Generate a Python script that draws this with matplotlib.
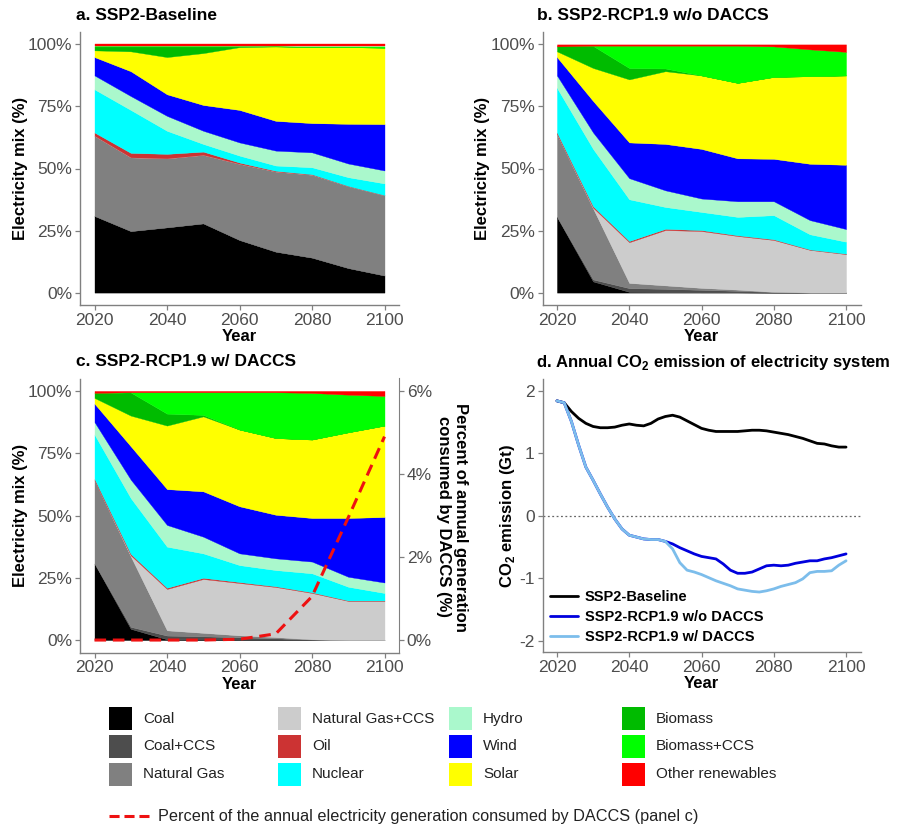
import matplotlib
matplotlib.use("Agg")
import matplotlib.pyplot as plt
from matplotlib.patches import Rectangle
from matplotlib.lines import Line2D
from matplotlib.ticker import FuncFormatter

plt.rcParams['font.family'] = ['Liberation Sans', 'DejaVu Sans']
plt.rcParams['mathtext.fontset'] = 'custom'
plt.rcParams['mathtext.rm'] = 'Liberation Sans:bold'
plt.rcParams['mathtext.bf'] = 'Liberation Sans:bold'

# ---------------- data ----------------
years = [2020, 2030, 2040, 2050, 2060, 2070, 2080, 2090, 2100]
categories = ["Coal", "Coal+CCS", "Natural Gas", "Natural Gas+CCS", "Oil", "Nuclear",
              "Hydro", "Wind", "Solar", "Biomass", "Biomass+CCS", "Other renewables"]
colors = ["#000000", "#4D4D4D", "#808080", "#CCCCCC", "#CC3333", "#00FFFF",
          "#AAF8CC", "#0000FF", "#FFFF00", "#00BB00", "#00FF00", "#FF0000"]

# a. SSP2-Baseline (shares, %)
a_coal = [30.9, 24.8, 26.3, 27.9, 21.2, 16.5, 14.1, 9.9, 6.9]
a_coal_ccs = [0, 0, 0, 0, 0, 0, 0, 0, 0]
a_gas = [32.3, 29.7, 27.8, 27.6, 30.7, 32.3, 33.4, 33.0, 32.3]
a_gas_ccs = [0, 0, 0, 0, 0, 0, 0, 0, 0]
a_oil = [1.3, 1.8, 1.8, 1.3, 0.5, 0.3, 0.2, 0.1, 0.1]
a_nuclear = [17.4, 17.3, 9.3, 3.1, 2.8, 2.1, 2.8, 3.5, 4.7]
a_hydro = [5.6, 5.6, 6.0, 5.3, 5.3, 6.0, 6.0, 5.5, 5.2]
a_wind = [7.4, 10.0, 8.7, 10.4, 13.1, 12.0, 11.8, 16.0, 18.7]
a_solar = [2.7, 8.0, 15.0, 20.9, 25.3, 30.0, 30.6, 30.9, 30.8]
a_biomass = [1.6, 2.0, 4.3, 2.7, 0.3, 0.0, 0.1, 0.0, 0.0]
a_biomass_ccs = [0, 0, 0, 0, 0, 0, 0.2, 0.3, 0.5]
a_other = [0.8, 0.8, 0.8, 0.8, 0.8, 0.8, 0.8, 0.8, 0.8]

# b. SSP2-RCP1.9 w/o DACCS
b_coal = [30.5, 4.5, 0.3, 0.2, 0.1, 0.1, 0, 0, 0]
b_coal_ccs = [0, 0.8, 1.5, 1.3, 1.0, 0.6, 0.2, 0, 0]
b_gas = [33.4, 28.6, 2.1, 1.4, 0.8, 0.5, 0.1, 0, 0]
b_gas_ccs = [0, 0.3, 16.4, 22.3, 22.9, 21.6, 20.9, 17.2, 15.5]
b_oil = [0.6, 0.6, 0.5, 0.5, 0.4, 0.3, 0.3, 0.2, 0.2]
b_nuclear = [18.0, 23.1, 16.8, 8.8, 7.3, 7.4, 9.7, 6.1, 4.8]
b_hydro = [5.0, 6.6, 8.5, 6.7, 5.4, 6.3, 5.6, 5.7, 5.1]
b_wind = [7.4, 12.7, 14.4, 18.7, 20.0, 17.3, 17.1, 22.7, 25.9]
b_solar = [2.3, 13.3, 25.4, 29.3, 29.6, 30.4, 33.0, 35.3, 36.0]
b_biomass = [2.0, 8.9, 4.6, 1.1, 0, 0, 0, 0, 0]
b_biomass_ccs = [0, 0.1, 9.0, 9.2, 12.0, 15.0, 12.3, 10.8, 9.5]
b_other = [0.8, 0.5, 0.5, 0.5, 0.5, 0.5, 0.8, 2.0, 3.0]

# c. SSP2-RCP1.9 w/ DACCS
c_coal = [30.7, 4.5, 0.3, 0.2, 0.1, 0.1, 0, 0, 0]
c_coal_ccs = [0, 0.8, 1.5, 1.3, 1.0, 0.6, 0.2, 0, 0]
c_gas = [33.4, 28.3, 2.1, 1.4, 0.8, 0.5, 0.1, 0, 0]
c_gas_ccs = [0, 0.4, 16.6, 21.6, 21.0, 20.1, 18.6, 15.7, 15.7]
c_oil = [0.6, 0.6, 0.5, 0.5, 0.4, 0.3, 0.3, 0.2, 0.2]
c_nuclear = [17.8, 22.4, 16.5, 9.8, 6.8, 6.5, 7.6, 5.5, 3.0]
c_hydro = [5.0, 7.4, 8.7, 6.7, 4.7, 4.7, 4.7, 4.0, 4.2]
c_wind = [7.4, 13.4, 14.4, 18.2, 18.9, 17.5, 17.5, 23.6, 26.3]
c_solar = [2.3, 12.3, 25.5, 30.1, 30.8, 30.8, 31.5, 34.4, 36.7]
c_biomass = [2.0, 9.3, 4.8, 0.6, 0, 0, 0, 0, 0]
c_biomass_ccs = [0, 0.1, 8.6, 9.1, 15.0, 18.4, 18.7, 15.1, 11.9]
c_other = [0.8, 0.5, 0.5, 0.5, 0.5, 0.5, 0.8, 1.5, 2.0]

# DACCS share of annual generation (panel c, right axis, %)
daccs_pct = [0, 0, 0, 0, 0.02, 0.15, 1.05, 2.95, 4.9]

# d. Annual CO2 emission (Gt)
em_years = list(range(2020, 2101, 2))
em_baseline = [1.84, 1.81, 1.67, 1.56, 1.48, 1.43, 1.41, 1.41, 1.42, 1.45, 1.47,
               1.45, 1.44, 1.48, 1.55, 1.59, 1.61, 1.58, 1.52, 1.46, 1.40,
               1.37, 1.35, 1.35, 1.35, 1.35, 1.36, 1.37, 1.37, 1.36, 1.34,
               1.32, 1.30, 1.27, 1.24, 1.20, 1.16, 1.15, 1.12, 1.10, 1.10]
em_wo_daccs = [1.84, 1.81, 1.51, 1.13, 0.78, 0.57, 0.35, 0.14, -0.05, -0.21, -0.31,
               -0.34, -0.37, -0.38, -0.38, -0.41, -0.45, -0.51, -0.56, -0.61, -0.65,
               -0.67, -0.69, -0.77, -0.87, -0.92, -0.92, -0.90, -0.85, -0.80, -0.79,
               -0.80, -0.79, -0.76, -0.74, -0.72, -0.72, -0.69, -0.67, -0.64, -0.61]
em_w_daccs = [1.84, 1.81, 1.51, 1.13, 0.78, 0.57, 0.35, 0.14, -0.05, -0.21, -0.31,
              -0.34, -0.37, -0.38, -0.38, -0.41, -0.53, -0.75, -0.87, -0.90, -0.94,
              -0.99, -1.04, -1.08, -1.12, -1.17, -1.19, -1.21, -1.22, -1.20, -1.17,
              -1.13, -1.10, -1.07, -1.01, -0.91, -0.89, -0.89, -0.88, -0.79, -0.72]
line_labels = ["SSP2-Baseline", "SSP2-RCP1.9 w/o DACCS", "SSP2-RCP1.9 w/ DACCS"]
line_colors = ["#000000", "#0000DD", "#7CBDEB"]

a_shares = [a_coal, a_coal_ccs, a_gas, a_gas_ccs, a_oil, a_nuclear, a_hydro,
            a_wind, a_solar, a_biomass, a_biomass_ccs, a_other]
b_shares = [b_coal, b_coal_ccs, b_gas, b_gas_ccs, b_oil, b_nuclear, b_hydro,
            b_wind, b_solar, b_biomass, b_biomass_ccs, b_other]
c_shares = [c_coal, c_coal_ccs, c_gas, c_gas_ccs, c_oil, c_nuclear, c_hydro,
            c_wind, c_solar, c_biomass, c_biomass_ccs, c_other]

# ---------------- figure ----------------
W, H = 902, 826
fig = plt.figure(figsize=(W / 100, H / 100), dpi=100)

SPINE = "#808080"
TICKTXT = "#4D4D4D"


def fx(px):
    return px / W


def fy(py):
    return 1 - py / H


def make_ax(left, right, top, bottom):
    return fig.add_axes([fx(left), fy(bottom), fx(right - left), (bottom - top) / H])


def style(ax):
    for s in ["top", "right"]:
        ax.spines[s].set_visible(False)
    for s in ["left", "bottom"]:
        ax.spines[s].set_color(SPINE)
        ax.spines[s].set_linewidth(1.0)
    ax.tick_params(colors=SPINE, labelcolor=TICKTXT, labelsize=12.5, length=3.5,
                   width=0.9, pad=2)
    ax.set_xlim(2016, 2104)
    ax.set_xticks([2020, 2040, 2060, 2080, 2100])
    ax.set_xlabel("Year", fontsize=12, fontweight="bold", labelpad=1)


pct_fmt = FuncFormatter(lambda v, p: f"{v:.0f}%")
num_fmt = FuncFormatter(lambda v, p: f"{v:g}")


def mix_panel(ax, shares):
    polys = ax.stackplot(years, *shares, colors=colors, linewidth=0.25)
    for p, c in zip(polys, colors):
        p.set_edgecolor(c)
    style(ax)
    ax.set_ylim(-5, 105)
    ax.set_yticks([0, 25, 50, 75, 100])
    ax.yaxis.set_major_formatter(pct_fmt)
    ax.set_ylabel("Electricity mix (%)", fontsize=12, fontweight="bold", labelpad=0)


ax_a = make_ax(80, 399, 32, 305)
mix_panel(ax_a, a_shares)
ax_b = make_ax(542.5, 860.5, 32, 305)
mix_panel(ax_b, b_shares)
ax_c = make_ax(80, 399, 378.5, 652.5)
mix_panel(ax_c, c_shares)

# right axis of panel c
ax_c2 = ax_c.twinx()
ax_c2.set_ylim(-0.3, 6.3)
ax_c2.plot(years, daccs_pct, color="#EE1111", lw=2.2, ls=(0, (3.8, 2.2)),
           solid_capstyle="butt", dash_capstyle="butt")
for s in ["top", "left", "bottom"]:
    ax_c2.spines[s].set_visible(False)
ax_c2.spines["right"].set_color(SPINE)
ax_c2.set_yticks([0, 2, 4, 6])
ax_c2.yaxis.set_major_formatter(pct_fmt)
ax_c2.tick_params(colors=SPINE, labelcolor=TICKTXT, labelsize=12.5, length=3.5,
                  width=0.9, pad=2)
ax_c2.set_xlim(2016, 2104)
fig.text(fx(452), fy(517), "Percent of annual generation\nconsumed by DACCS (%)",
         rotation=270, ha="center", va="center", multialignment="center",
         fontsize=12, fontweight="bold")

# panel d
ax_d = make_ax(542.5, 860.5, 379, 652)
style(ax_d)
ax_d.axhline(0, color="#666666", lw=0.9, ls=(0, (1.5, 2.0)), zorder=1)
handles = []
for vals, lab, col in [(em_baseline, line_labels[0], line_colors[0]),
                       (em_wo_daccs, line_labels[1], line_colors[1]),
                       (em_w_daccs, line_labels[2], line_colors[2])]:
    h, = ax_d.plot(em_years, vals, color=col, lw=2.0, label=lab,
                   solid_joinstyle="round", solid_capstyle="round")
    handles.append(h)
ax_d.set_ylim(-2.18, 2.19)
ax_d.set_yticks([-2, -1, 0, 1, 2])
ax_d.yaxis.set_major_formatter(num_fmt)
ax_d.set_ylabel("CO$_\\mathbf{2}$ emission (Gt)", fontsize=12, fontweight="bold", labelpad=2)
leg = ax_d.legend(handles=handles, loc="upper left",
                  bbox_to_anchor=(fx(550), fy(590)), bbox_transform=fig.transFigure,
                  frameon=False, borderpad=0, borderaxespad=0, handlelength=1.9,
                  handletextpad=0.5, labelspacing=0.42,
                  prop={"size": 10.5, "weight": "bold"})

# titles
fig.text(fx(76), fy(16), "a. SSP2-Baseline", fontsize=12.5, fontweight="bold",
         ha="left", va="center")
fig.text(fx(537), fy(16), "b. SSP2-RCP1.9 w/o DACCS", fontsize=12.5, fontweight="bold",
         ha="left", va="center")
fig.text(fx(76), fy(362), "c. SSP2-RCP1.9 w/ DACCS", fontsize=12.5, fontweight="bold",
         ha="left", va="center")
fig.text(fx(536), fy(363), "d. Annual CO$_\\mathbf{2}$ emission of electricity system",
         fontsize=12, fontweight="bold", ha="left", va="center")

# bottom legend (manual layout)
col_x = [109, 278, 449, 622]
row_y = [718.7, 746.4, 774.0]
pw, ph = 23, 23
for i, (cat, col) in enumerate(zip(categories, colors)):
    ci, ri = divmod(i, 3)
    x0, yc = col_x[ci], row_y[ri]
    fig.add_artist(Rectangle((fx(x0), fy(yc + ph / 2)), pw / W, ph / H,
                             transform=fig.transFigure, facecolor=col,
                             edgecolor="none"))
    fig.text(fx(x0 + pw + 11), fy(yc), cat, fontsize=11, ha="left", va="center",
             color="#222222")

fig.add_artist(Line2D([fx(109), fx(149)], [fy(816), fy(816)], transform=fig.transFigure,
                      color="#EE1111", lw=2.2, ls=(0, (3.3, 1.6))))
fig.text(fx(158), fy(816), "Percent of the annual electricity generation consumed by DACCS (panel c)",
         fontsize=11.7, ha="left", va="center", color="#222222")

fig.savefig("out.png", dpi=100)
